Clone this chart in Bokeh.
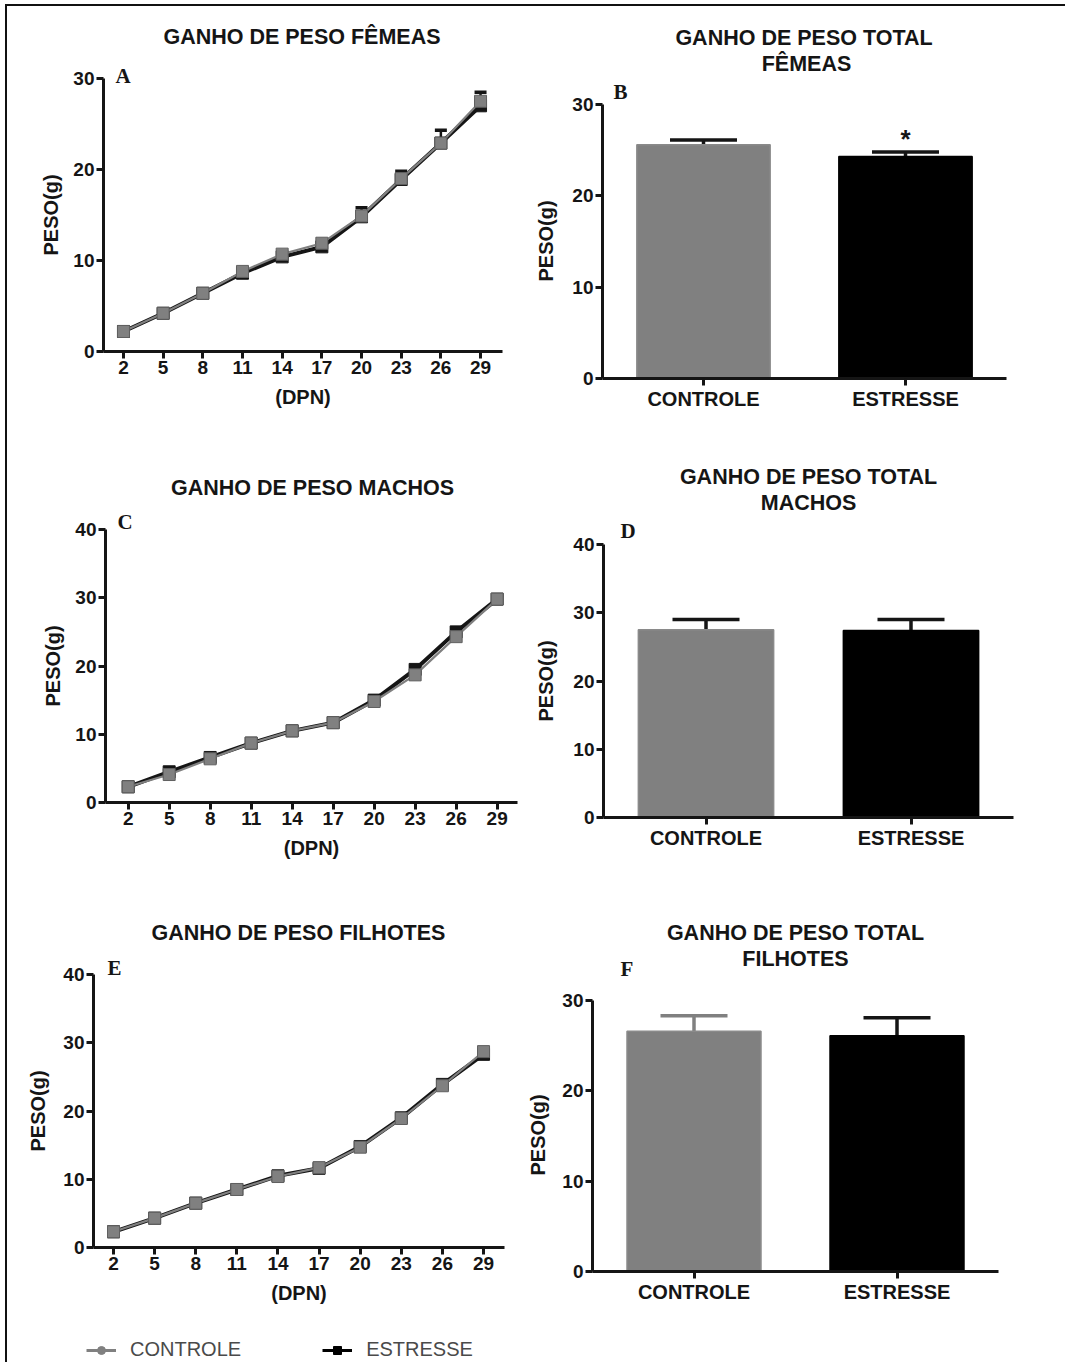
from bokeh.plotting import figure
from bokeh.models import (FixedTicker, Range1d, FactorRange, Title, Label,
                          Legend, LegendItem, ColumnDataSource, Spacer)
from bokeh.layouts import row, column
from bokeh.embed import file_html
from bokeh.resources import INLINE
from bokeh.core.properties import value

# ---------------- data ----------------
days = [2, 5, 8, 11, 14, 17, 20, 23, 26, 29]

fem_ctrl = [2.2, 4.2, 6.4, 8.8, 10.7, 11.9, 14.9, 19.0, 22.9, 27.5]
fem_ctrl_err = [0.2, 0.2, 0.2, 0.3, 0.3, 0.3, 0.4, 0.4, 0.5, 0.5]
fem_str = [2.2, 4.2, 6.4, 8.6, 10.4, 11.5, 14.8, 18.9, 22.9, 27.0]
fem_str_err = [0.2, 0.2, 0.2, 0.4, 0.4, 0.4, 1.0, 0.9, 1.4, 1.5]

mac_ctrl = [2.3, 4.1, 6.4, 8.7, 10.5, 11.7, 14.8, 18.7, 24.3, 29.8]
mac_ctrl_err = [0.2, 0.2, 0.2, 0.3, 0.3, 0.3, 0.4, 0.4, 0.5, 0.5]
mac_str = [2.3, 4.5, 6.6, 8.7, 10.5, 11.7, 15.0, 19.5, 25.0, 29.8]
mac_str_err = [0.2, 0.2, 0.2, 0.3, 0.3, 0.3, 0.4, 0.4, 0.5, 0.5]

fil_ctrl = [2.3, 4.3, 6.5, 8.5, 10.4, 11.7, 14.7, 18.9, 23.7, 28.7]
fil_ctrl_err = [0.2, 0.2, 0.2, 0.3, 0.3, 0.3, 0.4, 0.4, 0.5, 0.5]
fil_str = [2.3, 4.3, 6.5, 8.5, 10.5, 11.6, 14.8, 19.0, 23.9, 28.3]
fil_str_err = [0.2, 0.2, 0.2, 0.3, 0.3, 0.3, 0.4, 0.4, 0.5, 0.5]

groups = ["CONTROLE", "ESTRESSE"]
fem_total = [25.6, 24.3]
fem_total_err = [0.5, 0.5]
mac_total = [27.5, 27.4]
mac_total_err = [1.5, 1.6]
fil_total = [26.6, 26.1]
fil_total_err = [1.7, 2.0]

day_ticks = [2, 5, 8, 11, 14, 17, 20, 23, 26, 29]

# ---------------- styling helpers ----------------
SANS = "Liberation Sans"
SERIF = "Liberation Serif"
INK = "#151515"
GRAY = "#808080"
LIFT = 8  # vertical correction for in-frame text labels


def no_align(p):
    try:
        p.frame_align = False
    except Exception:
        pass


def make_fig(w, h, borders, x_range, ymax, data_px):
    """Frame reaches the figure top; the y axis itself is bounded to 0..ymax."""
    left, right, bottom = borders
    frame_h = h - bottom
    ytop = ymax * frame_h / data_px
    p = figure(width=w, height=h, x_range=x_range, y_range=Range1d(0, ytop),
               toolbar_location=None, output_backend="svg", title=None,
               min_border_left=left, min_border_right=right,
               min_border_top=0, min_border_bottom=bottom)
    no_align(p)
    p.yaxis.bounds = (0, ymax)
    return p


def style_axes(p, yticks, xticks=None):
    p.yaxis.ticker = FixedTicker(ticks=yticks)
    if xticks is not None:
        p.xaxis.ticker = FixedTicker(ticks=xticks)
    for ax in [p.xaxis[0], p.yaxis[0]]:
        ax.axis_line_width = 3
        ax.axis_line_color = INK
        ax.major_tick_line_width = 3
        ax.major_tick_line_color = INK
        ax.major_tick_out = 7
        ax.major_tick_in = 0
        ax.minor_tick_line_color = None
        ax.major_label_text_font = SANS
        ax.major_label_text_font_style = "bold"
        ax.major_label_text_font_size = "19px"
        ax.major_label_text_color = INK
        ax.major_label_standoff = 2
        ax.axis_label_text_font = SANS
        ax.axis_label_text_font_style = "bold"
        ax.axis_label_text_font_size = "20px"
        ax.axis_label_text_color = INK
        ax.axis_label_standoff = 9
    p.grid.visible = False
    p.outline_line_color = None
    p.background_fill_color = "white"
    p.border_fill_color = "white"


def add_ylabel(p, data_px, gap):
    p.add_layout(Title(text="PESO(g)", align="left", offset=round(data_px / 2 - 40),
                       vertical_align="bottom", standoff=2 * (gap - 34.3),
                       text_font=SANS, text_font_size="20px",
                       text_font_style="bold", text_color=INK), "left")


def add_text(p, text, sx, sy, font=SANS, size="21.5px", align="center"):
    p.add_layout(Label(x=sx, y=sy + LIFT, x_units="screen", y_units="screen",
                       text=text, text_font=font, text_font_style="bold",
                       text_font_size=size, text_color=INK,
                       text_baseline="alphabetic", text_align=align))


def line_panel(w, h, borders, xr, ymax, data_px, yticks, ctrl, ctrl_err, stre,
               stre_err, title, title_xy, letter, letter_xy, ygap):
    p = make_fig(w, h, borders, Range1d(*xr), ymax, data_px)
    style_axes(p, yticks, day_ticks)
    p.xaxis.axis_label = "(DPN)"
    add_ylabel(p, data_px, ygap)
    src = ColumnDataSource(data=dict(
        x=days, c=ctrl, s=stre,
        cu=[v + e for v, e in zip(ctrl, ctrl_err)],
        su=[v + e for v, e in zip(stre, stre_err)]))
    p.segment(x0="x", y0="s", x1="x", y1="su", source=src, line_color=INK, line_width=2.5)
    p.scatter(x="x", y="su", source=src, marker="dash", size=12, line_color=INK, line_width=3.5)
    p.segment(x0="x", y0="c", x1="x", y1="cu", source=src, line_color=GRAY, line_width=2.5)
    p.line(x="x", y="s", source=src, line_color=INK, line_width=4)
    p.scatter(x="x", y="s", source=src, marker="square", size=12,
              fill_color=INK, line_color=INK)
    p.line(x="x", y="c", source=src, line_color=GRAY, line_width=2.2)
    p.scatter(x="x", y="c", source=src, marker="square", size=12,
              fill_color=GRAY, line_color="#606060", line_width=1)
    add_text(p, title, *title_xy)
    add_text(p, letter, *letter_xy, font=SERIF, size="21px", align="left")
    return p


def bar_panel(w, h, borders, ymax, data_px, yticks, vals, errs, err_colors,
              title_lines, title_xys, letter, letter_xy, ygap, star=False):
    p = make_fig(w, h, borders, FactorRange(factors=groups), ymax, data_px)
    style_axes(p, yticks)
    p.xaxis.major_label_text_font_size = "20px"
    add_ylabel(p, data_px, ygap)
    src = ColumnDataSource(data=dict(
        g=groups, v=vals, u=[v + e for v, e in zip(vals, errs)],
        fc=[GRAY, "#000000"], lc=["#8a8a8a", "#000000"], ec=err_colors))
    p.segment(x0="g", y0="v", x1="g", y1="u", source=src, line_color="ec", line_width=3.5)
    p.scatter(x="g", y="u", source=src, marker="dash", size=67,
              line_color="ec", line_width=3.5)
    p.vbar(x="g", top="v", bottom=0, width=0.66, source=src,
           fill_color="fc", line_color="lc", line_width=1.5)
    if star:
        ssrc = ColumnDataSource(data=dict(g=[groups[1]], y=[vals[1] + errs[1]], t=["*"]))
        p.text(x="g", y="y", text="t", source=ssrc, text_font=value(SANS),
               text_font_style="bold", text_font_size="26px", text_color=INK,
               text_align="center", text_baseline="bottom", y_offset=2)
    for t, xy in zip(title_lines, title_xys):
        add_text(p, t, *xy)
    add_text(p, letter, *letter_xy, font=SERIF, size="21px", align="left")
    return p


# ---------------- panels ----------------
# borders = (left, right, bottom); frames start at the top of each figure
pA = line_panel(511, 434, (96, 16, 89), (0.49, 30.66), 30, 273, [0, 10, 20, 30],
                fem_ctrl, fem_ctrl_err, fem_str, fem_str_err,
                "GANHO DE PESO FÊMEAS", (198.5, 307), "A", (12, 268), 43)
pB = bar_panel(547, 434, (84, 59, 62), 30, 274, [0, 10, 20, 30],
               fem_total, fem_total_err, [INK, INK],
               ["GANHO DE PESO TOTAL", "FÊMEAS"], [(201.5, 333), (204, 307)],
               "B", (11, 279), 47, star=True)

pC = line_panel(511, 450, (98, 1, 88), (0.34, 30.49), 40, 273, [0, 10, 20, 30, 40],
                mac_ctrl, mac_ctrl_err, mac_str, mac_str_err,
                "GANHO DE PESO MACHOS", (207, 306.5), "C", (12, 273), 43)
pD = bar_panel(547, 450, (85, 52, 73), 40, 273, [0, 10, 20, 30, 40],
               mac_total, mac_total_err, [INK, INK],
               ["GANHO DE PESO TOTAL", "MACHOS"], [(205, 332.5), (205, 306.5)],
               "D", (17, 279), 47.5)

pE = line_panel(501, 430, (86, 4, 73), (0.54, 30.53), 40, 273, [0, 10, 20, 30, 40],
                fil_ctrl, fil_ctrl_err, fil_str, fil_str_err,
                "GANHO DE PESO FILHOTES", (205, 306.5), "E", (14, 272), 45.5)
pF = bar_panel(557, 430, (84, 67, 49), 30, 271, [0, 10, 20, 30],
               fil_total, fil_total_err, [GRAY, INK],
               ["GANHO DE PESO TOTAL", "FILHOTES"], [(203, 330.5), (203, 304.5)],
               "F", (28, 295), 44.5)

# ---------------- legend strip ----------------
leg = figure(width=1058, height=42, x_range=Range1d(0, 1), y_range=Range1d(0, 1),
             toolbar_location=None, output_backend="svg", title=None,
             x_axis_location=None, y_axis_location=None, min_border=0)
no_align(leg)
leg.grid.visible = False
leg.outline_line_color = None
# swatch renderers: carry one real point each, kept outside the visible range
sw = ColumnDataSource(data=dict(x=[days[0]], c=[fil_ctrl[0]], s=[fil_str[0]]))
l1 = leg.line(x="x", y="c", source=sw, line_color=GRAY, line_width=3)
m1 = leg.scatter(x="x", y="c", source=sw, marker="circle", size=10,
                 fill_color=GRAY, line_color=GRAY)
l2 = leg.line(x="x", y="s", source=sw, line_color="#000000", line_width=3)
m2 = leg.scatter(x="x", y="s", source=sw, marker="square", size=10,
                 fill_color="#000000", line_color="#000000")
legend = Legend(items=[LegendItem(label="CONTROLE", renderers=[l1, m1]),
                       LegendItem(label="ESTRESSE", renderers=[l2, m2])],
                orientation="horizontal", location=(79, 1), glyph_width=30,
                glyph_height=20, label_standoff=14, spacing=81, padding=0,
                margin=0, border_line_color=None, background_fill_alpha=0,
                label_text_font=SANS, label_text_font_size="20px",
                label_text_color="#4a4a4a")
leg.add_layout(legend, "center")

framed = column(row(column(pA), column(pB)), row(column(pC), column(pD)),
                row(column(pE), column(pF)), leg,
                styles={"border-top": "2px solid #111", "border-left": "2px solid #111"})
layout = column(Spacer(height=4), row(Spacer(width=5), framed))

open("out.html", "w").write(file_html(layout, INLINE))
